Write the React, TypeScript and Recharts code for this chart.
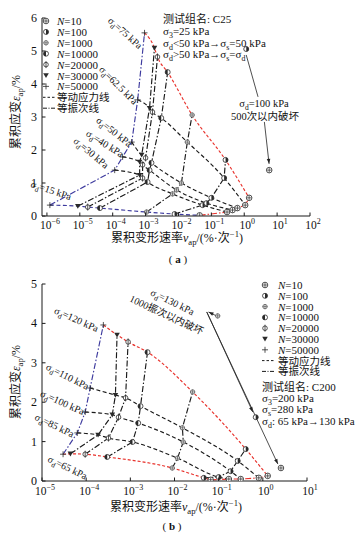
import React from 'react';
import { ComposedChart, Line, Scatter, XAxis, YAxis, ReferenceLine } from 'recharts';

const FONT = '"Liberation Serif", "Noto Sans CJK SC", serif';
const INK = '#1a1a1a';
const RED = '#e8312b';
const BLUE = '#3d3a9e';
const DASH = '4 2.5';
const DASHDOT = '6 2 1.5 2';

// cycle numbers, order used in every series array below
const N_LEVELS = [50000, 30000, 20000, 10000, 1000, 100, 10];
const LEGEND_N = [10, 100, 1000, 10000, 20000, 30000, 50000];

// (a) C25 : [v_ap (%/cycle), eps_ap (%)] for N = 50000 ... 10
const A_SIGMA = ['15', '30', '40', '50', '62.5', '75'];
const a15 = [[1.23e-6, 0.33], [8.7e-6, 0.3], [1.74e-5, 0.27], [4.1e-5, 0.24], [1.07e-3, 0.12], [7.6e-3, 0.06], [4.4e-2, 0.02]];
const a30 = [[1.15e-4, 1.39], [6.6e-4, 1.24], [8.1e-4, 1.15], [1.15e-3, 1.03], [6.6e-3, 0.67], [5.4e-2, 0.33], [0.3, 0.12]];
const a40 = [[2.0e-4, 1.79], [6.6e-4, 1.64], [8.1e-4, 1.55], [1.32e-3, 1.39], [8.7e-3, 0.79], [7.1e-2, 0.39], [0.44, 0.18]];
const a50 = [[3.8e-4, 2.24], [7.6e-4, 1.85], [1.0e-3, 1.76], [1.51e-3, 1.61], [1.23e-2, 1.0], [0.1, 0.55], [0.62, 0.24]];
const a625 = [[5.75e-4, 3.52], [1.32e-3, 3.27], [1.62e-3, 3.15], [3.0e-3, 2.97], [1.86e-2, 2.24], [0.245, 1.15], [1.07, 0.33]];
const a75 = [[9.3e-4, 5.55], [1.86e-3, 5.09], [2.3e-3, 4.82], [4.7e-3, 4.36], [2.6e-2, 3.06], [0.27, 1.7], [1.41, 0.55]];
// sigma_d = 100 kPa, failed within 500 cycles: [v, eps, N]
const a100Fail = [[1.15, 5.06, 100], [5.75, 1.39, 10]];
const aArrows = [
  { from: [1.15, 4.88], to: [2.63, 3.61], head: false },
  { from: [4.1, 2.85], to: [5.7, 1.58], head: true },
];

// (b) C200 : [v_ap, eps_ap] for N = 50000 ... 10
const B_SIGMA = ['65', '85', '100', '110', '120'];
const b65 = [[3.0e-5, 0.68], [4.4e-5, 0.69], [9.5e-5, 0.68], [3.0e-4, 0.61], [8.9e-3, 0.33], [4.6e-2, 0.08], [6.6e-2, 0.03]];
const b85 = [[6.3e-5, 1.22], [1.86e-4, 1.17], [3.2e-4, 1.09], [1.12e-3, 0.99], [1.17e-2, 0.58], [0.1, 0.1], [0.17, 0.05]];
const b100 = [[9.5e-5, 1.75], [3.9e-4, 1.68], [5.4e-4, 1.62], [1.51e-3, 1.47], [1.58e-2, 0.99], [0.186, 0.25], [0.316, 0.05]];
const b110 = [[1.23e-4, 2.36], [4.6e-4, 2.18], [7.8e-4, 2.11], [1.7e-3, 1.9], [1.51e-2, 1.35], [0.27, 0.51], [0.81, 0.08]];
const b120 = [[2.45e-4, 3.96], [5.0e-4, 3.71], [8.9e-4, 3.53], [2.45e-3, 3.27], [2.57e-2, 2.26], [0.41, 0.81], [1.29, 0.13]];
// sigma_d = 130 kPa, failed within 1000 cycles
const b130Fail = [[0.095, 4.19, 1000], [0.69, 1.62, 100], [2.57, 0.33, 10]];
const bArrows = [
  { from: [0.0537, 4.29], to: [0.593, 1.75], head: true },
  { from: [0.0537, 4.29], to: [2.19, 0.43], head: true },
  { from: [0.089, 4.19], to: [0.059, 4.29], head: true },
];

// decade exponents of the log axes
const A_XTICKS = [-6, -5, -4, -3, -2, -1, 0, 1, 2];
const A_YTICKS = [0, 1, 2, 3, 4, 5, 6];
const B_XTICKS = [-5, -4, -3, -2, -1, 0, 1];
const B_YTICKS = [0, 1, 2, 3, 4, 5];

type Pt = { lv: number; e: number; n: number };
const toPts = (arr: number[][]): Pt[] => arr.map((p, i) => ({ lv: Math.log10(p[0]), e: p[1], n: N_LEVELS[i] }));
const failPts = (arr: number[][]): Pt[] => arr.map((p) => ({ lv: Math.log10(p[0]), e: p[1], n: p[2] }));
const byN = (series: Pt[][]) => N_LEVELS.map((_, i) => series.map((s) => s[i]));

function Marker({ n, cx, cy }: { n: number; cx: number; cy: number }) {
  if (cx == null || cy == null || isNaN(cx) || isNaN(cy)) return <g />;
  const s = '#2a2a2a';
  const r = 2.5;
  const sw = 0.8;
  switch (n) {
    case 10:
      return (
        <g>
          <circle cx={cx} cy={cy} r={r + 0.3} fill="#fff" stroke={s} strokeWidth={sw} />
          <line x1={cx - r} x2={cx + r} y1={cy} y2={cy} stroke={s} strokeWidth={0.7} />
          <line x1={cx} x2={cx} y1={cy - r} y2={cy + r} stroke={s} strokeWidth={0.7} />
        </g>
      );
    case 100:
      return (
        <g>
          <circle cx={cx} cy={cy} r={r} fill="#fff" stroke={s} strokeWidth={sw} />
          <path d={`M${cx},${cy - r} A${r},${r} 0 0 1 ${cx},${cy + r} Z`} fill={s} />
        </g>
      );
    case 1000:
      return (
        <g>
          <circle cx={cx} cy={cy} r={r - 0.3} fill="#fff" stroke="#555" strokeWidth={sw} />
          <line x1={cx - r} x2={cx + r} y1={cy} y2={cy} stroke="#555" strokeWidth={0.7} />
          <line x1={cx} x2={cx} y1={cy - r} y2={cy + r} stroke="#555" strokeWidth={0.7} />
        </g>
      );
    case 10000:
      return (
        <g>
          <circle cx={cx} cy={cy} r={r} fill="#fff" stroke={s} strokeWidth={sw} />
          <path d={`M${cx},${cy - r} A${r},${r} 0 0 0 ${cx},${cy + r} Z`} fill={s} />
        </g>
      );
    case 20000:
      return (
        <g>
          <circle cx={cx} cy={cy} r={r - 0.2} fill="#fff" stroke={s} strokeWidth={sw} />
          <line x1={cx} x2={cx} y1={cy - r - 1} y2={cy + r + 1} stroke={s} strokeWidth={0.8} />
        </g>
      );
    case 30000:
      return <polygon points={`${cx - 2.8},${cy - 2.2} ${cx + 2.8},${cy - 2.2} ${cx},${cy + 2.6}`} fill={s} />;
    default:
      return (
        <g>
          <line x1={cx - 3} x2={cx + 3} y1={cy} y2={cy} stroke={s} strokeWidth={0.8} />
          <line x1={cx} x2={cx} y1={cy - 3} y2={cy + 3} stroke={s} strokeWidth={0.8} />
        </g>
      );
  }
}

type Part = string | { sub: string } | { sup: string } | { it: string };
function Rich({ x, y, parts, size = 11, anchor = 'start', angle = 0, weight = 'normal' }: any) {
  const kids: any[] = [];
  let shift = 0;
  (parts as Part[]).forEach((p, i) => {
    if (typeof p === 'string') {
      kids.push(<tspan key={i} dy={-shift}>{p}</tspan>);
      shift = 0;
    } else if ('sub' in p) {
      const d = size * 0.28;
      kids.push(<tspan key={i} dy={d - shift} fontSize={size * 0.72}>{p.sub}</tspan>);
      shift = d;
    } else if ('sup' in p) {
      const d = -size * 0.4;
      kids.push(<tspan key={i} dy={d - shift} fontSize={size * 0.72}>{p.sup}</tspan>);
      shift = d;
    } else {
      kids.push(<tspan key={i} dy={-shift} fontStyle="italic">{p.it}</tspan>);
      shift = 0;
    }
  });
  return (
    <text
      x={x}
      y={y}
      fontSize={size}
      fontFamily={FONT}
      fontWeight={weight}
      textAnchor={anchor}
      fill="#111"
      transform={angle ? `rotate(${angle} ${x} ${y})` : undefined}
    >
      {kids}
    </text>
  );
}

const LogTick = (props: any) => {
  const { x, y, payload, dyLabel } = props;
  const exp = Math.round(payload.value);
  const s = exp < 0 ? '\u2212' + Math.abs(exp) : String(exp);
  return (
    <g>
      <line x1={x} y1={y} x2={x} y2={y - 3.5} stroke={INK} strokeWidth={1} />
      <text x={x + 3} y={y + (dyLabel || 13)} textAnchor="middle" fontSize={11.5} fontFamily={FONT} fill="#111">
        10<tspan dy={-5} fontSize={8}>{s}</tspan>
      </text>
    </g>
  );
};

const LinTick = (props: any) => {
  const { x, y, payload } = props;
  return (
    <g>
      <line x1={x} y1={y} x2={x + 3.5} y2={y} stroke={INK} strokeWidth={1} />
      <text x={x - 5} y={y + 4} textAnchor="end" fontSize={12} fontFamily={FONT} fill="#111">
        {payload.value}
      </text>
    </g>
  );
};

const arrowShape = (head: boolean) => (p: any) => {
  const { x1, y1, x2, y2 } = p;
  const ang = Math.atan2(y2 - y1, x2 - x1);
  const L = 5;
  const W = 1.8;
  const hx = x2 - L * Math.cos(ang);
  const hy = y2 - L * Math.sin(ang);
  const pts = `${x2},${y2} ${hx - W * Math.sin(ang)},${hy + W * Math.cos(ang)} ${hx + W * Math.sin(ang)},${hy - W * Math.cos(ang)}`;
  return (
    <g>
      <line x1={x1} y1={y1} x2={x2} y2={y2} stroke="#222" strokeWidth={0.8} />
      {head && <polygon points={pts} fill="#222" />}
    </g>
  );
};

function Panel({ w, h, margin, xDomain, xTicks, yDomain, yTicks, series, stressStyle, fails, arrows, tickDy }: any) {
  const nLines = byN(series);
  const nStyle = (i: number) =>
    i === 0 ? { stroke: BLUE, dash: DASHDOT } : i === N_LEVELS.length - 1 ? { stroke: RED, dash: DASHDOT } : { stroke: INK, dash: DASHDOT };
  return (
    <ComposedChart width={w} height={h} margin={margin}>
      <XAxis
        type="number"
        dataKey="lv"
        domain={xDomain}
        ticks={xTicks}
        allowDataOverflow
        interval={0}
        height={30}
        tickSize={0}
        tickMargin={0}
        tickLine={false}
        axisLine={{ stroke: INK, strokeWidth: 1 }}
        tick={<LogTick dyLabel={tickDy} />}
      />
      <YAxis
        type="number"
        dataKey="e"
        domain={yDomain}
        ticks={yTicks}
        allowDataOverflow
        interval={0}
        width={40}
        tickSize={0}
        tickMargin={0}
        tickLine={false}
        axisLine={{ stroke: INK, strokeWidth: 1 }}
        tick={<LinTick />}
      />
      {nLines.map((pts: Pt[], i: number) => {
        const st = nStyle(i);
        return (
          <Line
            key={'n' + i}
            data={pts}
            dataKey="e"
            type="linear"
            stroke={st.stroke}
            strokeDasharray={st.dash}
            strokeWidth={1.15}
            dot={false}
            activeDot={false}
            isAnimationActive={false}
          />
        );
      })}
      {series.map((pts: Pt[], i: number) => {
        const st = stressStyle(i);
        return (
          <Line
            key={'s' + i}
            data={pts}
            dataKey="e"
            type="monotone"
            stroke={st.stroke}
            strokeDasharray={st.dash}
            strokeWidth={1.15}
            dot={false}
            activeDot={false}
            isAnimationActive={false}
          />
        );
      })}
      {arrows.map((a: any, i: number) => (
        <ReferenceLine
          key={'a' + i}
          segment={[{ x: Math.log10(a.from[0]), y: a.from[1] }, { x: Math.log10(a.to[0]), y: a.to[1] }]}
          ifOverflow="visible"
          stroke="#222"
          shape={arrowShape(a.head)}
        />
      ))}
      {nLines.map((pts: Pt[], i: number) => (
        <Scatter
          key={'m' + i}
          data={pts}
          isAnimationActive={false}
          shape={(p: any) => <Marker n={N_LEVELS[i]} cx={p.cx} cy={p.cy} />}
        />
      ))}
      {fails.map((pt: Pt, i: number) => (
        <Scatter
          key={'f' + i}
          data={[pt]}
          isAnimationActive={false}
          shape={(p: any) => <Marker n={pt.n} cx={p.cx} cy={p.cy} />}
        />
      ))}
    </ComposedChart>
  );
}

const sig = (sub: string, rest: string): Part[] => ['σ', { sub }, rest];

function Legend({ x, y0, step, tx }: any) {
  return (
    <g>
      {LEGEND_N.map((n, i) => (
        <g key={n}>
          <Marker n={n} cx={x} cy={y0 + i * step} />
          <Rich x={tx} y={y0 + i * step + 4} size={11} parts={[{ it: 'N' }, '=' + n]} />
        </g>
      ))}
      <line x1={x - 3} x2={x + 9} y1={y0 + 7 * step} y2={y0 + 7 * step} stroke={INK} strokeDasharray="2.5 2" />
      <Rich x={tx} y={y0 + 7 * step + 4} size={10.5} parts={['等动应力线']} />
      <line x1={x - 3} x2={x + 9} y1={y0 + 8 * step} y2={y0 + 8 * step} stroke={INK} strokeDasharray="4 1.5 1 1.5" />
      <Rich x={tx} y={y0 + 8 * step + 4} size={10.5} parts={['等振次线']} />
    </g>
  );
}

export default function App() {
  const aSeries = [a15, a30, a40, a50, a625, a75].map(toPts);
  const bSeries = [b65, b85, b100, b110, b120].map(toPts);
  const aStress = (i: number) =>
    i === 0 ? { stroke: BLUE, dash: DASH } : i === aSeries.length - 1 ? { stroke: RED, dash: '3 2' } : { stroke: INK, dash: DASH };
  const bStress = (i: number) =>
    i === 0 || i === bSeries.length - 1 ? { stroke: RED, dash: '3 2' } : { stroke: INK, dash: DASH };

  const aLabels = [
    { c: [50, 190], a: 18 },
    { c: [89, 152], a: 40 },
    { c: [103, 143], a: 32 },
    { c: [112, 131], a: 38 },
    { c: [116, 84], a: 45 },
    { c: [123, 32], a: 42 },
  ];
  const bLabels = [
    { c: [66, 467], a: 26 },
    { c: [53, 425], a: 26 },
    { c: [61, 402], a: 24 },
    { c: [66, 376], a: 27 },
    { c: [75, 319], a: 24 },
  ];

  return (
    <div style={{ position: 'absolute', left: 0, top: 0, width: 360, height: 539, background: '#fff', overflow: 'hidden' }}>
      <div style={{ position: 'absolute', left: 0, top: 0 }}>
        <Panel
          w={360}
          h={270}
          margin={{ top: 18, right: 50, left: 2, bottom: 24 }}
          xDomain={[-6.15, 2]}
          xTicks={A_XTICKS}
          yDomain={[0, 6]}
          yTicks={A_YTICKS}
          series={aSeries}
          stressStyle={aStress}
          fails={failPts(a100Fail)}
          arrows={aArrows}
          tickDy={12.5}
        />
      </div>
      <div style={{ position: 'absolute', left: 0, top: 270 }}>
        <Panel
          w={360}
          h={269}
          margin={{ top: 14, right: 53, left: 2, bottom: 28 }}
          xDomain={[-5, 1]}
          xTicks={B_XTICKS}
          yDomain={[0, 5]}
          yTicks={B_YTICKS}
          series={bSeries}
          stressStyle={bStress}
          fails={failPts(b130Fail)}
          arrows={bArrows}
          tickDy={13.5}
        />
      </div>
      <svg width={360} height={539} style={{ position: 'absolute', left: 0, top: 0, pointerEvents: 'none' }}>
        {/* ---- panel (a) ---- */}
        <Legend x={46} y0={21} step={10.9} tx={57} />
        <Rich x={163} y={23} size={11} parts={['测试组名: C25']} />
        <Rich x={163} y={35} size={11} parts={['σ', { sub: '3' }, '=25 kPa']} />
        <Rich x={163} y={46.5} size={11} parts={['σ', { sub: 'd' }, '<50 kPa→σ', { sub: 's' }, '=50 kPa']} />
        <Rich x={163} y={57.5} size={11} parts={['σ', { sub: 'd' }, '>50 kPa→σ', { sub: 's' }, '=σ', { sub: 'd' }]} />
        {aLabels.map((l, i) => (
          <Rich key={'al' + i} x={l.c[0]} y={l.c[1] + 3.5} angle={l.a} anchor="middle" size={10} parts={sig('d', '=' + A_SIGMA[i] + ' kPa')} />
        ))}
        <Rich x={264} y={107} anchor="middle" size={10.5} parts={sig('d', '=100 kPa')} />
        <Rich x={265} y={119.5} anchor="middle" size={10.5} parts={['500次以内破坏']} />
        <Rich x={20} y={112} angle={-90} anchor="middle" size={12} parts={['累积应变', { it: 'ε' }, { sub: 'ap' }, '/%']} />
        <Rich x={177} y={242} anchor="middle" size={12} parts={['累积变形速率', { it: 'v' }, { sub: 'ap' }, '/(%·次', { sup: '−1' }, ')']} />
        <text x={178} y={263} textAnchor="middle" fontSize={11} fontFamily={FONT} fill="#111">
          ( <tspan fontWeight="bold">a</tspan> )
        </text>

        {/* ---- panel (b) ---- */}
        <Legend x={265} y0={285} step={10.8} tx={278} />
        <Rich x={262} y={391} size={11} parts={['测试组名: C200']} />
        <Rich x={262} y={402} size={11} parts={['σ', { sub: '3' }, '=200 kPa']} />
        <Rich x={262} y={413} size={11} parts={['σ', { sub: 's' }, '=280 kPa']} />
        <Rich x={262} y={425} size={11} parts={['σ', { sub: 'd' }, ': 65 kPa→130 kPa']} />
        {bLabels.map((l, i) => (
          <Rich key={'bl' + i} x={l.c[0]} y={l.c[1] + 3.5} angle={l.a} anchor="middle" size={10} parts={sig('d', '=' + B_SIGMA[i] + ' kPa')} />
        ))}
        <Rich x={171} y={305} angle={26} anchor="middle" size={10} parts={sig('d', '=130 kPa')} />
        <Rich x={165} y={318} angle={25} anchor="middle" size={10} parts={['1000振次以内破坏']} />
        <Rich x={20} y={382} angle={-90} anchor="middle" size={12} parts={['累积应变', { it: 'ε' }, { sub: 'ap' }, '/%']} />
        <Rich x={176} y={511} anchor="middle" size={12} parts={['累积变形速率', { it: 'v' }, { sub: 'ap' }, '/(%·次', { sup: '−1' }, ')']} />
        <text x={172} y={530} textAnchor="middle" fontSize={11} fontFamily={FONT} fill="#111">
          ( <tspan fontWeight="bold">b</tspan> )
        </text>
      </svg>
    </div>
  );
}
